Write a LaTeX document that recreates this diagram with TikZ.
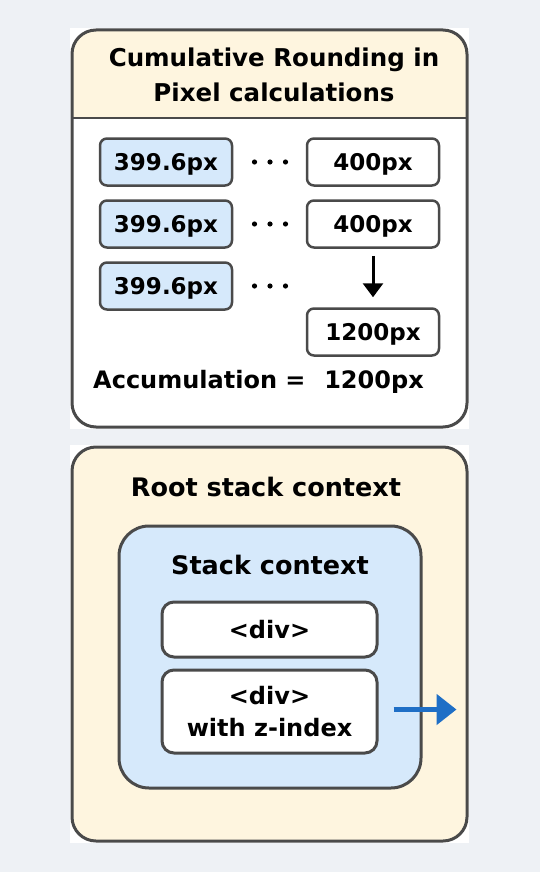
\documentclass[tikz,border=0pt]{standalone}
\usepackage{fontspec}
\setmainfont{DejaVu Sans}
\usetikzlibrary{positioning, arrows.meta, calc}
\usepackage{xcolor}

\definecolor{pagebg}{HTML}{EEF1F5}
\definecolor{edge}{HTML}{4A4A4A}
\definecolor{cream}{HTML}{FEF5DF}
\definecolor{paleblue}{HTML}{D6E9FB}
\definecolor{arrowblue}{HTML}{1F6FC6}

\begin{document}
\begin{tikzpicture}[
    x=1pt, y=-1pt,
    panel/.style={draw=edge, line width=3pt, rounded corners=24pt},
    pxbox/.style={draw=edge, line width=2.5pt, rounded corners=7pt, minimum width=132pt, minimum height=47pt, inner sep=0pt, text height=16.8pt, text depth=0pt, font=\bfseries\fontsize{23}{26}\selectfont},
    rawbox/.style={pxbox, fill=paleblue},
    roundbox/.style={pxbox, fill=white},
    divbox/.style={draw=edge, line width=3pt, rounded corners=12pt, fill=white, minimum width=215pt, inner sep=0pt, align=center, font=\bfseries\fontsize{24}{32}\selectfont},
    heading/.style={align=center, font=\bfseries\fontsize{25.5}{35}\selectfont},
    sumtext/.style={inner sep=0pt, font=\bfseries\fontsize{24}{28}\selectfont},
    sumarrow/.style={-{Triangle[length=14pt, width=20pt]}, line width=3pt},
    zarrow/.style={-{Triangle[length=20pt, width=30pt]}, line width=5pt, draw=arrowblue}
]
    % page and canvas
    \fill[pagebg] (0,0) rectangle (540,872);
    \fill[white] (70,28) rectangle (469,429);
    \fill[white] (70,445) rectangle (469,843);

    % Cumulative rounding panel
    \fill[cream] (72,118) {[rounded corners=24pt] -- (72,30) -- (467,30)} -- (467,118) -- cycle;
    \draw[panel] (72,30) rectangle (467,427);
    \draw[edge, line width=2pt] (72,118) -- (467,118);
    \node[heading, font=\bfseries\fontsize{24.5}{35}\selectfont] (title) at (274,75) {Cumulative Rounding in\\Pixel calculations};

    \foreach \row/\y in {1/162, 2/224, 3/286} {
        \node[rawbox] (raw\row) at (166,\y) {399.6px};
        \foreach \dx in {254.5, 270, 285.5}
            \fill (\dx,\y) circle (2.6pt);
    }
    \node[roundbox] (out1) at (373,162) {400px};
    \node[roundbox] (out2) at (373,224) {400px};
    \node[roundbox] (total) at (373,332) {1200px};
    \draw[sumarrow, shorten <=7pt, shorten >=10pt] (out2) -- (total);

    \node[sumtext, anchor=base west] (accum) at (93,388) {Accumulation =};
    \node[sumtext, anchor=base] (accumval) at (374,388) {1200px};

    % Stacking context panel
    \draw[panel, fill=cream] (72,447) rectangle (467,841);
    \node[heading] (root) at (266,487) {Root stack context};
    \draw[panel, fill=paleblue, rounded corners=30pt] (119,526) rectangle (421,788);
    \node[heading] (stack) at (270,565) {Stack context};

    \node[divbox, minimum height=55pt] (div) at (269.5,629.5) {<div>};
    \node[divbox, minimum height=83pt] (zdiv) at (269.5,711.5) {<div>\\with z-index};

    \coordinate (zfrom) at ($(zdiv.east)+(15,-2)$);
    \coordinate (zto) at ($(zdiv.east)+(78,-2)$);
    \draw[zarrow] (zfrom) -- (zto);
\end{tikzpicture}
\end{document}
